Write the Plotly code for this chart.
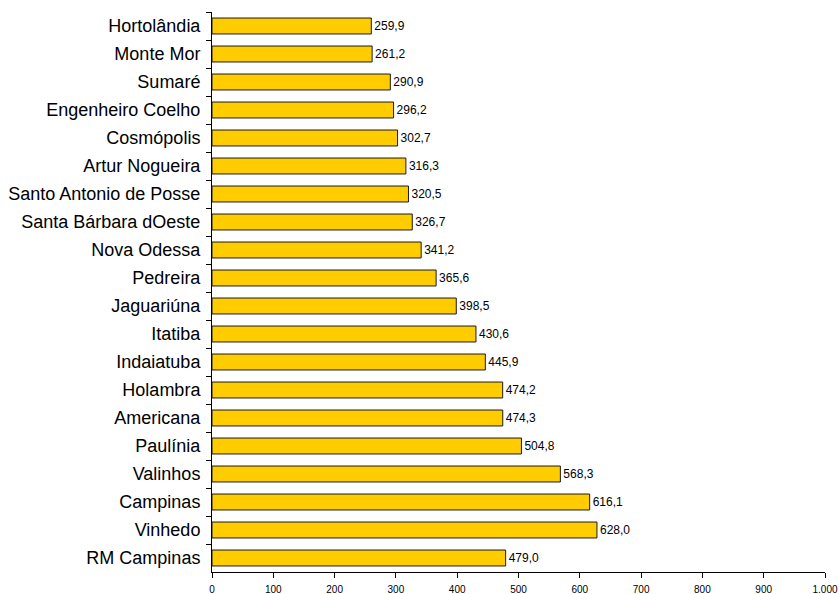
import plotly.graph_objects as go

municipios = ["Hortolândia", "Monte Mor", "Sumaré", "Engenheiro Coelho", "Cosmópolis",
              "Artur Nogueira", "Santo Antonio de Posse", "Santa Bárbara dOeste", "Nova Odessa",
              "Pedreira", "Jaguariúna", "Itatiba", "Indaiatuba", "Holambra", "Americana",
              "Paulínia", "Valinhos", "Campinas", "Vinhedo", "RM Campinas"]
valores = [259.9, 261.2, 290.9, 296.2, 302.7, 316.3, 320.5, 326.7, 341.2, 365.6,
           398.5, 430.6, 445.9, 474.2, 474.3, 504.8, 568.3, 616.1, 628.0, 479.0]
x_ticks = [0, 100, 200, 300, 400, 500, 600, 700, 800, 900, 1000]
titulo = "2000"

FONT = "Liberation Sans, Arial, sans-serif"

fig = go.Figure(go.Bar(
    x=valores, y=municipios, orientation="h",
    marker=dict(color="#FFCC00", line=dict(color="#1a1a1a", width=1)),
    text=valores, texttemplate="%{x:.1f}", textposition="outside",
    textfont=dict(size=12, color="black", family=FONT),
    cliponaxis=False,
))

fig.update_layout(
    width=840, height=594,
    margin=dict(l=212, r=15, t=12, b=22),
    plot_bgcolor="white", paper_bgcolor="white",
    separators=",.",
    bargap=0.43,
    showlegend=False,
    font=dict(family=FONT, color="black"),
    xaxis=dict(range=[0, 1000], tickvals=x_ticks, tickformat=",d", automargin=False,
               showgrid=False, zeroline=False, showline=True, linecolor="black", linewidth=1,
               ticks="outside", ticklen=5, tickcolor="black", ticklabelstandoff=3,
               tickfont=dict(size=10, family=FONT)),
    yaxis=dict(autorange="reversed", type="category", showgrid=False, zeroline=False,
               automargin=False,
               showline=True, linecolor="black", linewidth=1,
               ticks="outside", ticklen=5, tickcolor="black", tickson="boundaries",
               ticklabelstandoff=7,
               tickfont=dict(size=18, family=FONT)),
    annotations=[dict(text="<b>" + titulo + "</b>", xref="paper", yref="paper",
                      x=-212 / 613, y=1 + 7 / 560, xanchor="left", yanchor="bottom",
                      showarrow=False, font=dict(size=18, family=FONT))],
)

fig.write_html("out.html")
